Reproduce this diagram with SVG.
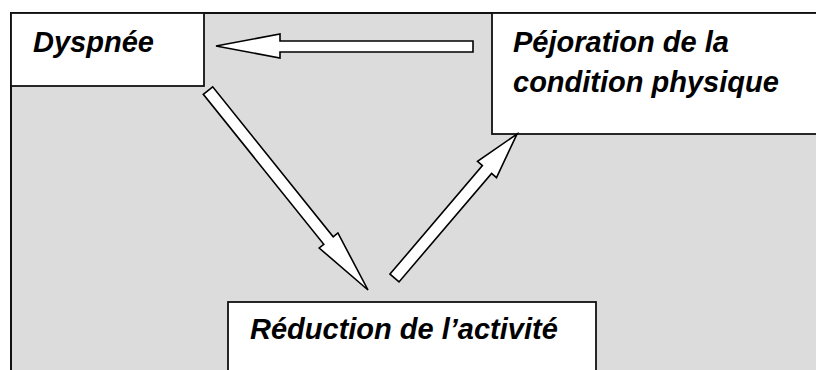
<svg xmlns="http://www.w3.org/2000/svg" width="816" height="370" viewBox="0 0 816 370">
<style>
.bg{fill:#dcdcdc;stroke:#111;stroke-width:2}
.box{fill:#fff;stroke:#111;stroke-width:1.8}
.arr{fill:#fff;stroke:#000;stroke-width:1.6;stroke-linejoin:miter}
.t{font-family:"Liberation Sans",Arial,sans-serif;font-weight:bold;font-style:italic;font-size:29px;fill:#000}
</style>
<rect x="0" y="0" width="816" height="370" fill="#fff"/>
<rect class="bg" x="11" y="13" width="810" height="365"/>
<g id="dyspnee">
<rect class="box" x="11" y="13" width="193" height="73"/>
<text class="t" x="33" y="52">Dyspnée</text>
</g>
<g id="pejoration">
<rect class="box" x="492" y="13" width="330" height="121"/>
<text class="t" x="513" y="52">Péjoration de la</text>
<text class="t" x="513" y="92">condition physique</text>
</g>
<g id="reduction">
<rect class="box" x="228" y="302" width="368" height="80"/>
<text class="t" x="250" y="339">Réduction de l’activité</text>
</g>
<g id="connectors">
<polygon class="arr" points="216,46 280,34 280,41 473,41 473,52 280,52 280,58"/>
<polygon class="arr" points="203.3,94.3 212.7,86.8 333.2,236.8 337.9,233 368,290 319.2,248 323.8,244.3"/>
<polygon class="arr" points="390,274.1 482.4,165.6 477.5,161.4 517,134 496.5,177.6 491.6,173.4 399,281.9"/>
</g>
</svg>
